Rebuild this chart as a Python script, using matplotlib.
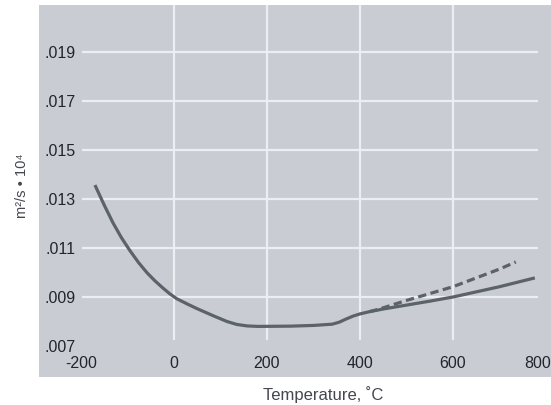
import matplotlib
matplotlib.use("Agg")
import matplotlib.pyplot as plt
from matplotlib.patches import Rectangle
from matplotlib.transforms import ScaledTranslation

plt.rcParams['font.family'] = ['Liberation Sans', 'DejaVu Sans']

# solid curve
temp = [-170, -150, -131, -113, -95, -76, -58, -41, -24, -9, 6, 28, 49, 85,
        114, 135, 157, 180, 250, 300, 340, 355, 370, 385, 400, 420, 450, 500,
        550, 600, 700, 776]
visc = [0.01357, 0.01275, 0.01202, 0.01142, 0.01090, 0.01040, 0.00999, 0.00966,
        0.00937, 0.00913, 0.00893, 0.00872, 0.00853, 0.00823, 0.00800, 0.00788,
        0.00782, 0.00780, 0.00781, 0.00784, 0.00789, 0.00797, 0.00810, 0.00822,
        0.00831, 0.00840, 0.00851, 0.00867, 0.00883, 0.00900, 0.00942, 0.00978]

# dashed branch
temp_d = [420, 440, 500, 600, 700, 735]
visc_d = [0.00840, 0.00850, 0.00886, 0.00942, 0.01014, 0.01043]

xticks = [-200, 0, 200, 400, 600, 800]
yticks = [0.007, 0.009, 0.011, 0.013, 0.015, 0.017, 0.019]
ylabels = [".007", ".009", ".011", ".013", ".015", ".017", ".019"]

W, H = 551, 405
fig = plt.figure(figsize=(W / 100, H / 100), dpi=100)
fig.patch.set_facecolor("white")
fig.patches.append(Rectangle((39 / W, 1 - 377 / H), (W - 39) / W, (377 - 5) / H,
                             transform=fig.transFigure, facecolor="#c9cdd3",
                             edgecolor="none", zorder=-10))

ax = fig.add_axes([81 / W, 1 - 346 / H, (546 - 81) / W, (346 - 5) / H])
ax.set_zorder(5)
ax.set_facecolor("none")
ax.set_xlim(-200, 800)
ax.set_ylim(0.007, 0.02092)
for s in ax.spines.values():
    s.set_visible(False)

grid_c = "#eceef1"
ax.hlines(yticks[1:], -198, 783, color=grid_c, lw=1.6, zorder=1)
ax.vlines(xticks[1:-1], 0.00724, 0.02092, color=grid_c, lw=1.6, zorder=1)

line_c = "#5b6269"
ax.plot(temp_d, visc_d, color=line_c, lw=2.3, ls=(0, (2.6, 1.4)), zorder=3)
ax.plot(temp, visc, color=line_c, lw=2.3, zorder=4, solid_capstyle="butt",
        solid_joinstyle="round")

ax.set_xticks(xticks)
ax.set_xticklabels([str(t) for t in xticks])
ax.set_yticks(yticks)
ax.set_yticklabels(ylabels)
ax.tick_params(length=0, labelsize=11.5, labelcolor="#22242e")
ax.tick_params(axis="x", pad=7)
ax.tick_params(axis="y", pad=4)

# the last x label sits a little left so it stays inside the picture
lab = ax.get_xticklabels()[-1]
lab.set_transform(lab.get_transform() + ScaledTranslation(-8 / 100, 0, fig.dpi_scale_trans))

fig.text(323 / W, 1 - 395 / H, "Temperature, ˚C", ha="center", va="center",
         fontsize=12, color="#45474f")
fig.text(22 / W, 1 - 186 / H, "m²/s • 10⁴", ha="center", va="center",
         rotation=90, fontsize=10.5, color="#45474f")

fig.savefig("out.png", dpi=100)
